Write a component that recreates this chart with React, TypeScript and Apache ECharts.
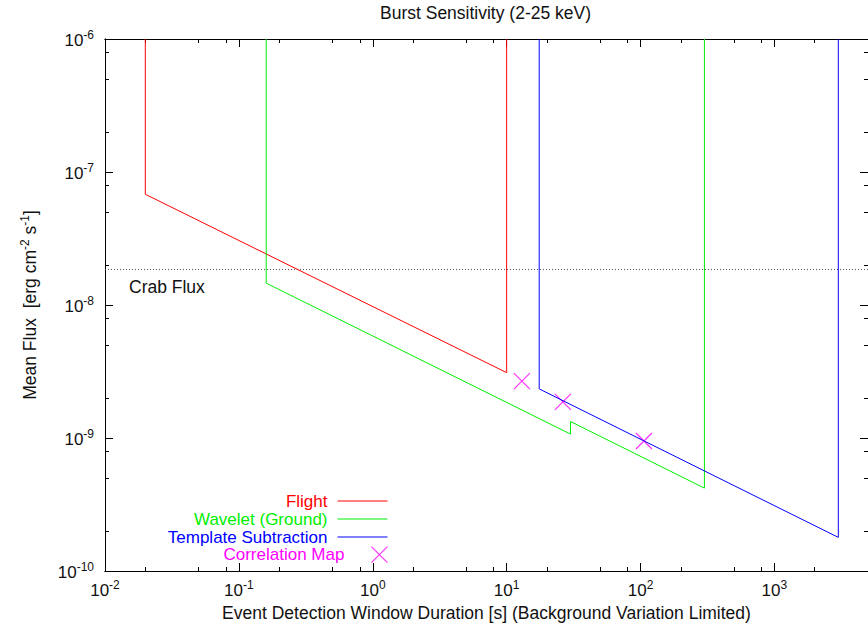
import React, { useEffect, useRef } from "react";
import * as echarts from "echarts";

// ---- data ----
const flightX = [0.02, 0.02, 10, 10];
const flightY = [1e-6, 6.8e-8, 3.1e-9, 1e-6];
const waveletX = [0.16, 0.16, 30, 30, 300, 300];
const waveletY = [1e-6, 1.46e-8, 1.07e-9, 1.33e-9, 4.2e-10, 1e-6];
const templateX = [17.5, 17.5, 3000, 3000];
const templateY = [1e-6, 2.34e-9, 1.79e-10, 1e-6];
const corrX = [13, 26.3, 106];
const corrY = [2.68e-9, 1.87e-9, 9.5e-10];
const crabFlux = 1.85e-8;
const crabLabel = "Crab Flux";

const xMajorTicks = [0.01, 0.1, 1, 10, 100, 1000];
const xMinorTicks = [0.02, 0.05, 0.08, 0.2, 0.5, 0.8, 2, 5, 8, 20, 50, 80, 200, 500, 800, 2000];
const yMajorTicks = [1e-10, 1e-9, 1e-8, 1e-7, 1e-6];
const yMinorTicks = [2e-10, 5e-10, 8e-10, 2e-9, 5e-9, 8e-9, 2e-8, 5e-8, 8e-8, 2e-7, 5e-7, 8e-7];

const seriesNames = ["Flight", "Wavelet (Ground)", "Template Subtraction", "Correlation Map"];
const seriesColors = ["#ff0000", "#00ee00", "#0000ff", "#ff00ff"];

const X_MIN = 0.01;
const X_MAX = 5000;
const Y_MIN = 1e-10;
const Y_MAX = 1e-6;

const FONT = "'Liberation Sans', Arial, Helvetica, sans-serif";
const TXT = "#111";

const pairs = (xs: number[], ys: number[]) => xs.map((x, i) => [x, ys[i]]);

const rich = {
  b: { fontSize: 17, fontFamily: FONT, color: TXT, lineHeight: 20, verticalAlign: "bottom" },
  s: { fontSize: 12, fontFamily: FONT, color: TXT, lineHeight: 7, verticalAlign: "top" },
};
const supLabel = (v: number) => `{b|10}{s|${Math.round(Math.log10(v))}}`;

function makeAxis(
  pos: string,
  min: number,
  max: number,
  ticks: number[],
  len: number,
  labels: boolean,
  margin: number
) {
  return {
    type: "log",
    logBase: 10,
    position: pos,
    min,
    max,
    axisLine: { show: true, onZero: false, lineStyle: { color: "#000", width: 1 } },
    axisTick: {
      show: true,
      inside: true,
      length: len,
      customValues: ticks,
      lineStyle: { color: "#000", width: 1 },
    },
    axisLabel: labels
      ? { show: true, customValues: ticks, formatter: supLabel, rich, margin }
      : { show: false },
    splitLine: { show: false },
    minorTick: { show: false },
    minorSplitLine: { show: false },
  };
}

const CHART_W = 868;
const CHART_H = 629;

export default function App() {
  const ref = useRef<HTMLDivElement>(null);
  useEffect(() => {
    document.body.style.margin = "0";
    if (!ref.current) return;
    const chart = echarts.init(ref.current, null, { renderer: "svg" });

    const rowCenters = [500.5, 518.5, 536.5, 554];
    const legends = seriesNames.map((name, i) => {
      const isScatter = i === 3;
      return {
        data: [name],
        orient: "horizontal",
        align: "right",
        right: CHART_W - 388,
        top: rowCenters[i] - 8,
        padding: 0,
        itemWidth: 50,
        itemHeight: 16,
        selectedMode: false,
        textStyle: {
          color: seriesColors[i],
          fontSize: 17,
          fontFamily: FONT,
          lineHeight: 16,
          padding: [0, 5, 0, 0],
        },
        itemStyle: isScatter
          ? { color: seriesColors[3], borderColor: seriesColors[3], borderWidth: 1.2 }
          : { opacity: 0, borderWidth: 0 },
        lineStyle: { color: seriesColors[i], width: 1 },
      };
    });

    const lineSeries = (name: string, xs: number[], ys: number[], color: string) => ({
      type: "line",
      name,
      data: pairs(xs, ys),
      symbol: "none",
      color,
      lineStyle: { color, width: 1 },
      itemStyle: { color },
    });

    const option: any = {
      animation: false,
      backgroundColor: "#fff",
      color: seriesColors,
      textStyle: { fontFamily: FONT },
      title: {
        text: "Burst Sensitivity (2-25 keV)",
        left: 380,
        top: 4,
        padding: 0,
        textStyle: { fontSize: 17.5, fontWeight: "normal", color: TXT, fontFamily: FONT },
      },
      grid: { left: 105, top: 39, width: 765, height: 532, containLabel: false },
      legend: legends,
      xAxis: [
        {
          ...makeAxis("bottom", X_MIN, X_MAX, xMajorTicks, 8, true, 8),
          name: "Event Detection Window Duration [s] (Background Variation Limited)",
          nameLocation: "middle",
          nameGap: 32,
          nameTextStyle: { fontSize: 17.5, color: TXT, fontFamily: FONT },
        },
        makeAxis("bottom", X_MIN, X_MAX, xMinorTicks, 4, false, 0),
        makeAxis("top", X_MIN, X_MAX, xMajorTicks, 8, false, 0),
        makeAxis("top", X_MIN, X_MAX, xMinorTicks, 4, false, 0),
      ],
      yAxis: [
        {
          ...makeAxis("left", Y_MIN, Y_MAX, yMajorTicks, 8, true, 11),
          name: "{t|Mean Flux  [erg cm}{s|-2}{t| s}{s|-1}{t|]}",
          nameLocation: "middle",
          nameGap: 66,
          nameRotate: 90,
          nameTextStyle: {
            rich: {
              t: { fontSize: 17.5, fontFamily: FONT, color: TXT, lineHeight: 20, verticalAlign: "bottom" },
              s: { fontSize: 12, fontFamily: FONT, color: TXT, lineHeight: 7, verticalAlign: "top" },
            },
          },
        },
        makeAxis("left", Y_MIN, Y_MAX, yMinorTicks, 4, false, 0),
        makeAxis("right", Y_MIN, Y_MAX, yMajorTicks, 8, false, 0),
        makeAxis("right", Y_MIN, Y_MAX, yMinorTicks, 4, false, 0),
      ],
      series: [
        lineSeries(seriesNames[0], flightX, flightY, seriesColors[0]),
        lineSeries(seriesNames[1], waveletX, waveletY, seriesColors[1]),
        lineSeries(seriesNames[2], templateX, templateY, seriesColors[2]),
        {
          type: "scatter",
          name: seriesNames[3],
          data: pairs(corrX, corrY),
          symbol: "path://M0 0L10 10M10 0L0 10",
          symbolSize: 16,
          itemStyle: { color: seriesColors[3], borderColor: seriesColors[3], borderWidth: 1.2 },
        },
        {
          type: "line",
          name: crabLabel,
          data: [
            [X_MIN, crabFlux],
            [X_MAX, crabFlux],
          ],
          symbol: "none",
          silent: true,
          color: "#555",
          lineStyle: { color: "#555", width: 1, type: [1, 2] },
          itemStyle: { color: "#555" },
          z: 1,
        },
      ],
      graphic: [
        {
          type: "text",
          left: 129,
          top: 278,
          style: { text: crabLabel, fontSize: 17.5, fontFamily: FONT, fill: TXT },
        },
      ],
    };
    chart.setOption(option);
    return () => chart.dispose();
  }, []);
  return (
    <div
      ref={ref}
      style={{ position: "absolute", left: 0, top: 0, width: CHART_W, height: CHART_H }}
    />
  );
}
